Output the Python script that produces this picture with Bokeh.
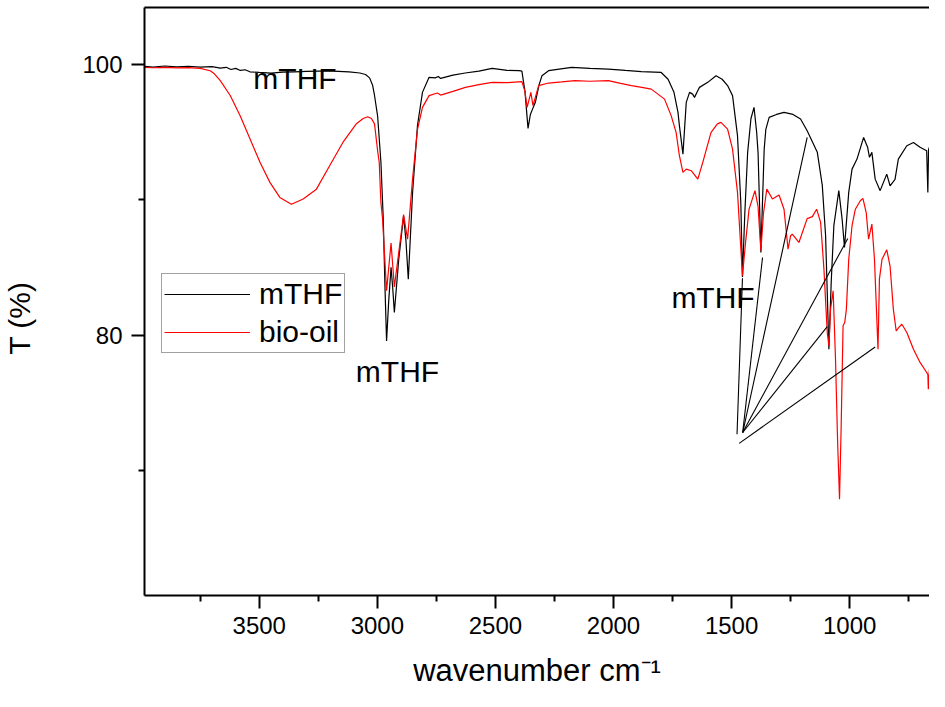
from bokeh.plotting import figure
from bokeh.models import Range1d, FixedTicker, LinearAxis, Legend, LegendItem
from bokeh.embed import file_html
from bokeh.resources import INLINE
from bokeh.core.properties import value

FONT = "Liberation Sans"

# mTHF spectrum (wavenumber cm-1, T %)
mthf_wn = [3986, 3950, 3900, 3850, 3800, 3750, 3700, 3665, 3640, 3620, 3600, 3580, 3560, 3540,
           3500, 3450, 3400, 3350, 3300, 3250, 3188, 3120, 3074, 3050, 3033, 3020, 3012, 2999,
           2985, 2975, 2968, 2961, 2952, 2942, 2935, 2928, 2910, 2889, 2879, 2869, 2851, 2830,
           2809, 2781, 2755, 2742, 2732, 2680, 2628, 2570, 2514, 2450, 2400, 2388, 2375, 2362,
           2352, 2345, 2331, 2315, 2303, 2275, 2230, 2177, 2100, 2022, 1950, 1882, 1798, 1769,
           1744, 1727, 1721, 1706, 1692, 1678, 1665, 1657, 1645, 1636, 1601, 1566, 1540, 1517,
           1496, 1475, 1461, 1454, 1444, 1432, 1418, 1405, 1394, 1388, 1376, 1362, 1355, 1341,
           1310, 1278, 1240, 1208, 1180, 1137, 1116, 1102, 1088, 1078, 1067, 1046, 1032, 1022,
           1004, 990, 969, 941, 924, 916, 906, 892, 871, 843, 829, 808, 794, 758, 730, 702, 674,
           669, 666, 662]
mthf_t = [99.85, 99.80, 99.88, 99.82, 99.86, 99.80, 99.83, 99.72, 99.78, 99.62, 99.70, 99.55, 99.60, 99.45,
          99.40, 99.35, 99.42, 99.45, 99.48, 99.50, 99.50, 99.45, 99.36, 99.25, 99.0, 98.45, 97.7, 96.2,
          92.8, 88.6, 83.7, 79.57, 82.5, 85.0, 83.5, 81.67, 85.5, 88.8, 87.0, 84.13, 90.5, 95.5,
          97.93, 99.04, 99.0, 99.1, 98.96, 99.2, 99.36, 99.5, 99.7, 99.55, 99.53, 99.5, 98.0, 95.27,
          96.3, 96.6, 97.2, 98.5, 99.16, 99.53, 99.65, 99.78, 99.7, 99.65, 99.55, 99.46, 99.4, 98.9,
          97.93, 96.45, 95.47, 93.37, 97.19, 97.93, 97.8, 97.56, 98.0, 98.3, 98.67, 99.16, 98.9, 98.43,
          97.69, 94.73, 89.8, 84.3, 89.0, 93.5, 96.0, 96.82, 95.0, 93.5, 86.1, 93.74, 95.2, 96.08,
          96.3, 96.45, 96.3, 95.96, 95.1, 93.5, 91.06, 87.36, 78.95, 84.0, 88.08, 90.67, 88.57, 86.47,
          90.54, 92.26, 93.0, 94.6, 93.87, 93.13, 93.5, 91.52, 90.67, 91.89, 91.03, 91.5, 93.0, 93.99, 94.23, 93.87, 93.62,
          90.54, 93.7, 93.9]

# bio-oil spectrum (wavenumber cm-1, T %)
bio_wn = [3986, 3950, 3900, 3850, 3800, 3750, 3708, 3690, 3665, 3623, 3581, 3539, 3497, 3455,
          3413, 3364, 3314, 3258, 3202, 3146, 3090, 3060, 3041, 3025, 3012, 2998, 2992, 2985,
          2978, 2961, 2942, 2928, 2889, 2872, 2851, 2830, 2809, 2781, 2746, 2732, 2680, 2627,
          2570, 2514, 2450, 2388, 2375, 2366, 2350, 2341, 2317, 2275, 2220, 2163, 2100, 2022,
          1970, 1924, 1880, 1840, 1784, 1756, 1735, 1721, 1706, 1692, 1671, 1643, 1622, 1587,
          1560, 1545, 1517, 1496, 1475, 1454, 1440, 1426, 1401, 1388, 1376, 1365, 1351, 1327,
          1299, 1278, 1261, 1250, 1243, 1215, 1180, 1158, 1140, 1123, 1109, 1095, 1088, 1081,
          1070, 1060, 1051, 1043, 1036, 1028, 1021, 1014, 1004, 990, 976, 955, 944, 930, 920,
          906, 895, 880, 874, 863, 843, 829, 815, 803, 790, 779, 758, 730, 702, 680, 669, 667, 662]
bio_t = [99.78, 99.75, 99.78, 99.74, 99.76, 99.70, 99.53, 99.3, 98.8, 97.7, 96.2, 94.48, 92.76, 91.28,
         90.17, 89.67, 90.05, 90.78, 92.51, 94.23, 95.59, 96.0, 96.13, 96.0, 95.6, 93.5, 92.76, 89.8,
         88.6, 83.27, 86.79, 83.56, 88.9, 87.08, 91.52, 95.2, 96.82, 97.69, 97.88, 97.73, 98.0, 98.3,
         98.5, 98.67, 98.65, 98.72, 98.0, 96.82, 97.93, 96.95, 98.43, 98.62, 98.7, 98.8, 98.75, 98.8,
         98.6, 98.43, 98.3, 98.17, 97.43, 96.21, 94.97, 93.25, 92.02, 92.26, 92.14, 91.52, 92.76, 94.97,
         95.6, 95.71, 95.22, 93.74, 90.54, 84.38, 87.0, 89.3, 90.67, 89.5, 86.23, 89.0, 90.78, 90.05,
         90.35, 89.3, 86.35, 87.34, 87.46, 86.84, 88.6, 88.75, 89.3, 88.32, 84.87, 80.19, 79.2, 81.91,
         83.27, 78.22, 72.06, 67.87, 73.3, 80.69, 80.93, 81.9, 85.6, 88.08, 89.3, 89.92, 90.1, 89.05, 87.08,
         88.2, 85.6, 78.95, 84.13, 85.6, 86.3, 85.1, 81.9, 80.3, 80.6, 80.8, 80.19, 78.95, 77.98, 77.4, 77.1, 76.0, 77.5]

# text annotations
ann_text = ["mTHF", "mTHF", "mTHF"]
ann_x = [3525, 3091, 1755]
ann_y = [98.95, 77.3, 82.75]

# pointer lines (start -> end)
ptr_x0 = [1477, 1453, 1453, 1453, 1453, 1468]
ptr_y0 = [72.67, 72.8, 72.8, 72.8, 72.8, 72.0]
ptr_x1 = [1454, 1369, 1180, 1008, 1095, 892]
ptr_y1 = [84.2, 85.73, 94.6, 87.14, 80.63, 79.12]

x_major = [3500, 3000, 2500, 2000, 1500, 1000]
x_minor = [3750, 3250, 2750, 2250, 1750, 1250, 750]
y_major = [80, 100]
y_minor = [70, 90]

p = figure(width=929, height=691, output_backend="svg", toolbar_location=None,
           x_range=Range1d(3986, 662), y_range=Range1d(60.76, 104.2),
           min_border_left=143, min_border_right=0, min_border_top=7, min_border_bottom=96)
p.grid.visible = False
p.outline_line_color = None
p.background_fill_color = "white"
p.border_fill_color = "white"

r1 = p.line(mthf_wn, mthf_t, line_color="black", line_width=1.2)
r2 = p.line(bio_wn, bio_t, line_color="#ff0000", line_width=1.2)

p.segment(ptr_x0, ptr_y0, ptr_x1, ptr_y1, line_color="black", line_width=1.1)

p.text(x=ann_x, y=ann_y, text=ann_text, text_font=value(FONT), text_font_size=value("30px"),
       text_baseline="alphabetic", text_align="left", text_color="black")

xa = p.xaxis[0]
xa.ticker = FixedTicker(ticks=x_major, minor_ticks=x_minor)
ya = p.yaxis[0]
ya.ticker = FixedTicker(ticks=y_major, minor_ticks=y_minor)
for ax in (xa, ya):
    ax.axis_line_width = 2
    ax.major_tick_line_width = 2
    ax.minor_tick_line_width = 2
    ax.major_tick_in = 0
    ax.minor_tick_in = 0
    ax.major_tick_out = 13
    ax.minor_tick_out = 6
    ax.major_label_text_font = FONT
    ax.major_label_text_font_size = "24px"
    ax.major_label_text_color = "black"
    ax.axis_label_text_font = FONT
    ax.axis_label_text_font_style = "normal"
    ax.axis_label_text_color = "black"
xa.major_label_standoff = 8
xa.axis_label = "wavenumber cm\u207b\u00b9"
xa.axis_label_text_font_size = "31px"
xa.axis_label_standoff = 16
ya.major_label_standoff = 9
ya.axis_label = "T (%)\u00a0\u00a0\u00a0\u00a0"
ya.axis_label_text_font_size = "30px"
ya.axis_label_standoff = 43

top = LinearAxis(ticker=FixedTicker(ticks=[]), axis_line_width=2, major_tick_out=0, minor_tick_out=0,
                 major_tick_in=0, minor_tick_in=0, major_label_standoff=0,
                 major_label_text_font_size="0px")
p.add_layout(top, "above")

legend = Legend(items=[LegendItem(label="mTHF", renderers=[r1]), LegendItem(label="bio-oil", renderers=[r2])],
                location=(17, 242), glyph_width=86, glyph_height=36, label_height=36, spacing=2,
                padding=2, label_standoff=9, label_text_font=FONT, label_text_font_size="30px",
                label_text_color="black",
                border_line_color="#444444", border_line_width=1, background_fill_color="white")
p.add_layout(legend)

open("out.html", "w").write(file_html(p, INLINE))
